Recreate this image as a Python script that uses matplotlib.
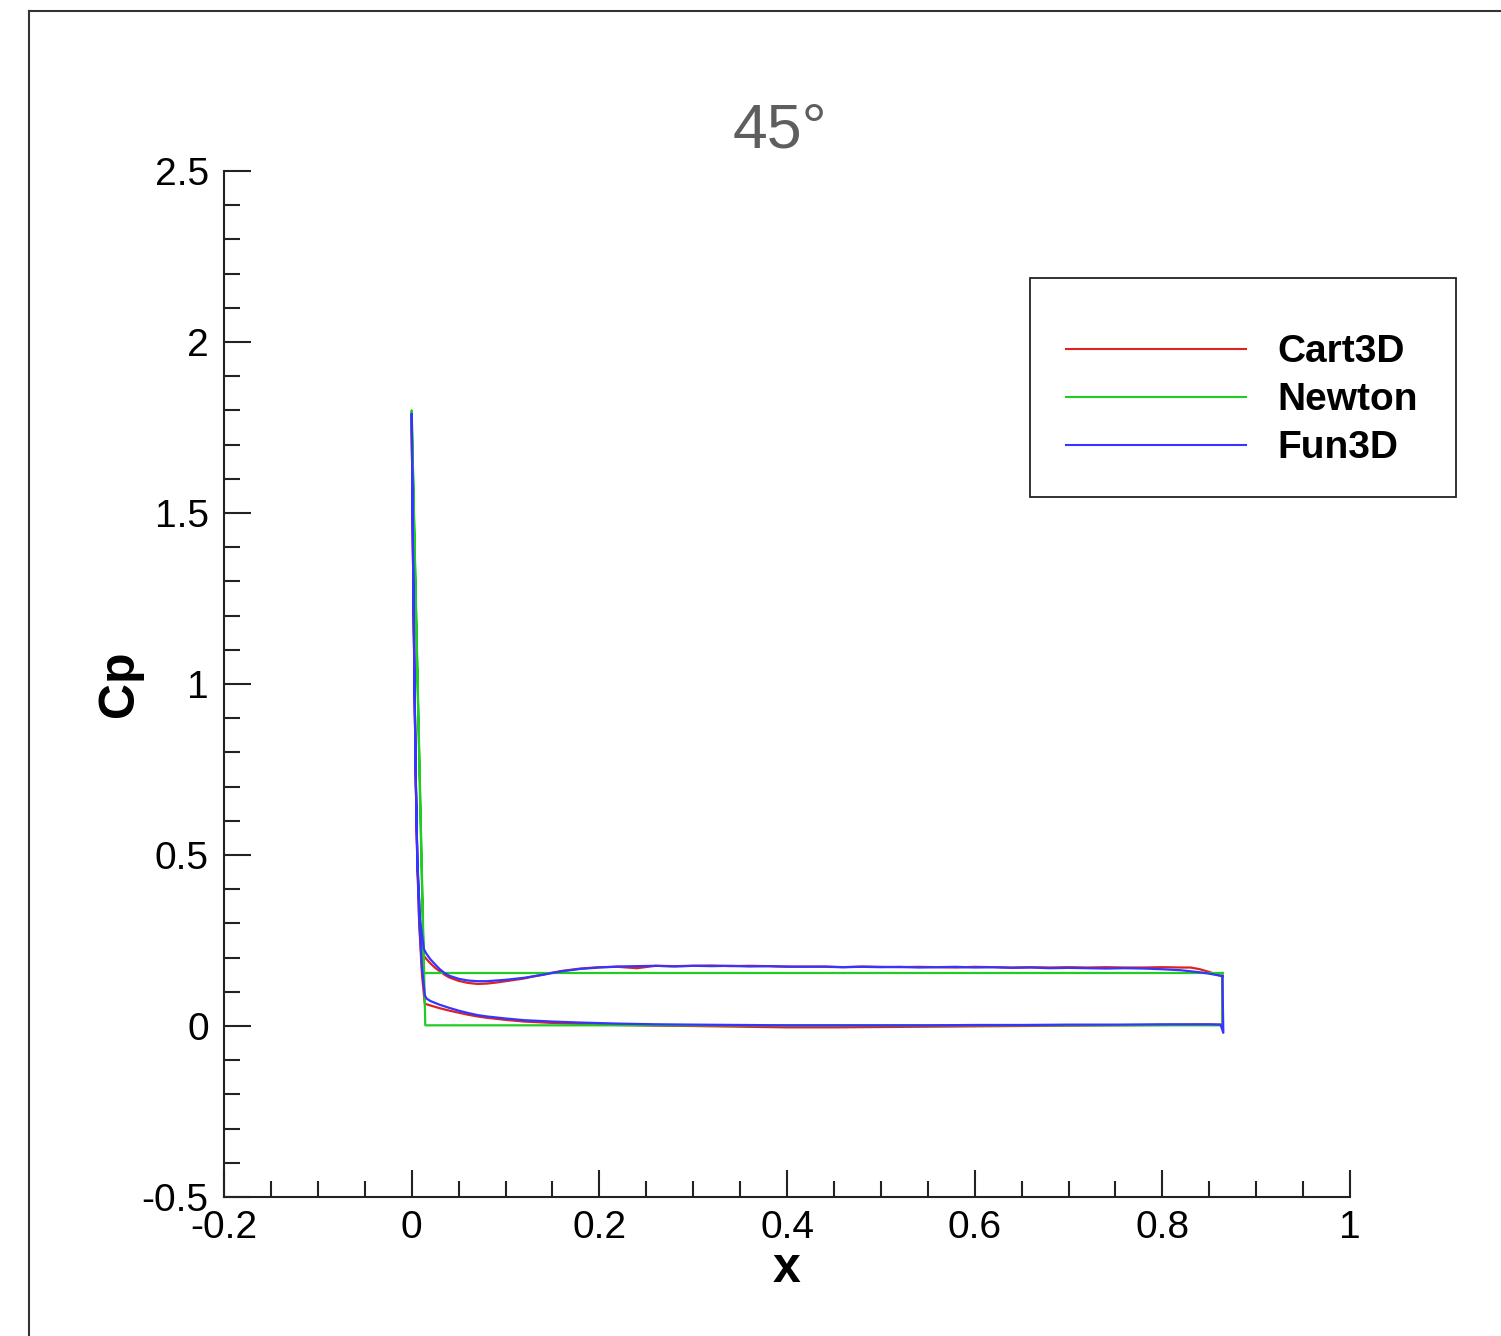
import matplotlib
matplotlib.use("Agg")
import matplotlib.pyplot as plt
from matplotlib.lines import Line2D
from matplotlib.patches import Rectangle
from matplotlib.ticker import MultipleLocator
import numpy as np

plt.rcParams["font.family"] = ["Liberation Sans", "DejaVu Sans"]

# ---- Cp distributions (x along the body, upper and lower surface) ----
# Cart3D
c3_up_x = [0.0, 0.0015, 0.003, 0.0045, 0.006, 0.009, 0.013, 0.016, 0.02, 0.025, 0.03, 0.035,
           0.04, 0.05, 0.06, 0.07, 0.08, 0.09, 0.10, 0.11, 0.12, 0.13, 0.14, 0.15, 0.16, 0.18,
           0.20, 0.22, 0.24, 0.26, 0.28, 0.30, 0.32, 0.34, 0.36, 0.38, 0.40, 0.42, 0.44, 0.46,
           0.48, 0.50, 0.52, 0.54, 0.56, 0.58, 0.60, 0.62, 0.64, 0.66, 0.68, 0.70, 0.72, 0.74,
           0.76, 0.78, 0.80, 0.82, 0.83, 0.84, 0.85, 0.856, 0.864]
c3_up_cp = [1.78, 1.35, 1.00, 0.70, 0.48, 0.30, 0.205, 0.195, 0.183, 0.170, 0.160, 0.150,
            0.142, 0.132, 0.126, 0.123, 0.124, 0.127, 0.131, 0.135, 0.139, 0.145, 0.150, 0.156,
            0.161, 0.168, 0.172, 0.173, 0.169, 0.176, 0.175, 0.176, 0.177, 0.175, 0.176, 0.175,
            0.173, 0.174, 0.173, 0.172, 0.174, 0.173, 0.172, 0.173, 0.172, 0.171, 0.173, 0.172,
            0.171, 0.172, 0.171, 0.172, 0.171, 0.172, 0.171, 0.171, 0.172, 0.171, 0.171, 0.166,
            0.158, 0.152, 0.145]
c3_lo_x = [0.0, 0.0015, 0.003, 0.0045, 0.006, 0.008, 0.011, 0.014, 0.02, 0.03, 0.04, 0.05,
           0.06, 0.07, 0.08, 0.10, 0.12, 0.15, 0.18, 0.22, 0.26, 0.30, 0.35, 0.40, 0.45, 0.50,
           0.55, 0.60, 0.65, 0.70, 0.75, 0.80, 0.85, 0.864]
c3_lo_cp = [1.78, 1.35, 1.00, 0.70, 0.48, 0.30, 0.15, 0.065, 0.060, 0.052, 0.045, 0.039,
            0.033, 0.028, 0.024, 0.018, 0.013, 0.009, 0.006, 0.003, 0.001, 0.000, -0.002,
            -0.004, -0.004, -0.003, -0.002, -0.001, 0.000, 0.001, 0.002, 0.003, 0.004, 0.004]

# Newton
nw_up_x = [0.0, 0.013, 0.864]
nw_up_cp = [1.80, 0.155, 0.155]
nw_lo_x = [0.0, 0.0145, 0.864]
nw_lo_cp = [1.80, 0.002, 0.002]

# Fun3D
f3_up_x = [0.0, 0.0015, 0.003, 0.0045, 0.006, 0.009, 0.013, 0.016, 0.02, 0.025, 0.03, 0.035,
           0.04, 0.05, 0.06, 0.07, 0.08, 0.09, 0.10, 0.12, 0.14, 0.16, 0.18, 0.20, 0.22, 0.24,
           0.26, 0.28, 0.30, 0.32, 0.34, 0.36, 0.38, 0.40, 0.42, 0.44, 0.46, 0.48, 0.50, 0.52,
           0.54, 0.56, 0.58, 0.60, 0.62, 0.64, 0.66, 0.68, 0.70, 0.72, 0.74, 0.76, 0.78, 0.80,
           0.82, 0.84, 0.85, 0.864]
f3_up_cp = [1.79, 1.36, 1.01, 0.71, 0.49, 0.31, 0.225, 0.210, 0.195, 0.180, 0.166, 0.155,
            0.147, 0.138, 0.133, 0.131, 0.131, 0.133, 0.135, 0.141, 0.150, 0.160, 0.167, 0.171,
            0.174, 0.175, 0.176, 0.174, 0.176, 0.175, 0.176, 0.174, 0.175, 0.174, 0.173, 0.174,
            0.172, 0.173, 0.172, 0.173, 0.171, 0.172, 0.173, 0.171, 0.172, 0.170, 0.171, 0.169,
            0.170, 0.169, 0.168, 0.169, 0.168, 0.166, 0.163, 0.157, 0.153, 0.146]
f3_lo_x = [0.0, 0.0015, 0.003, 0.0045, 0.006, 0.008, 0.011, 0.014, 0.016, 0.02, 0.03, 0.04,
           0.05, 0.06, 0.07, 0.08, 0.10, 0.12, 0.15, 0.18, 0.22, 0.26, 0.30, 0.35, 0.40, 0.45,
           0.50, 0.55, 0.60, 0.65, 0.70, 0.75, 0.80, 0.85, 0.862]
f3_lo_cp = [1.79, 1.36, 1.01, 0.71, 0.49, 0.31, 0.17, 0.090, 0.080, 0.073, 0.062, 0.053,
            0.045, 0.038, 0.032, 0.028, 0.022, 0.017, 0.013, 0.010, 0.007, 0.005, 0.004,
            0.003, 0.002, 0.002, 0.002, 0.002, 0.003, 0.003, 0.004, 0.004, 0.005, 0.005, 0.004]
f3_te_x = [0.865, 0.864]
f3_te_cp = [-0.02, 0.146]

series = ["Cart3D", "Newton", "Fun3D"]
colors = {"Cart3D": "#dd2222", "Newton": "#22cc22", "Fun3D": "#3535ff"}

x_ticks = [-0.2, 0.0, 0.2, 0.4, 0.6, 0.8, 1.0]
x_tick_labels = ["-0.2", "0", "0.2", "0.4", "0.6", "0.8", "1"]
y_ticks = [-0.5, 0.0, 0.5, 1.0, 1.5, 2.0, 2.5]
y_tick_labels = ["-0.5", "0", "0.5", "1", "1.5", "2", "2.5"]


def loop(up_x, up_cp, lo_x, lo_cp, te_x=(), te_cp=()):
    """Trailing edge -> upper surface -> leading edge -> lower surface -> trailing edge."""
    xs = list(up_x[::-1]) + list(lo_x[1:]) + list(te_x)
    ys = list(up_cp[::-1]) + list(lo_cp[1:]) + list(te_cp)
    if not te_x:
        xs.append(up_x[-1])
        ys.append(up_cp[-1])
    return np.array(xs), np.array(ys)


curves = {
    "Cart3D": loop(c3_up_x, c3_up_cp, c3_lo_x, c3_lo_cp),
    "Newton": loop(nw_up_x, nw_up_cp, nw_lo_x, nw_lo_cp),
    "Fun3D": loop(f3_up_x, f3_up_cp, f3_lo_x, f3_lo_cp, f3_te_x, f3_te_cp),
}

W, H = 1501, 1336
fig = plt.figure(figsize=(W / 100, H / 100), dpi=100)
ax = fig.add_axes([224 / W, 1 - 1197 / H, (1350 - 224) / W, (1197 - 171) / H])

for name in series:
    x, y = curves[name]
    ax.plot(x, y, color=colors[name], lw=1.6, solid_joinstyle="round")

ax.set_xticks(x_ticks)
ax.set_xticklabels(x_tick_labels)
ax.set_yticks(y_ticks)
ax.set_yticklabels(y_tick_labels)
ax.xaxis.set_minor_locator(MultipleLocator(0.05))
ax.yaxis.set_minor_locator(MultipleLocator(0.1))
ax.set_xlim(-0.2, 1.0)
ax.set_ylim(-0.5, 2.5)

for side in ("top", "right"):
    ax.spines[side].set_visible(False)
for side in ("left", "bottom"):
    ax.spines[side].set_linewidth(1.5)
    ax.spines[side].set_color("#222222")

ax.tick_params(which="both", direction="in", color="#222222", width=1.5, labelsize=28)
ax.tick_params(which="major", length=19.5)
ax.tick_params(which="minor", length=11.5)
ax.tick_params(axis="y", which="major", pad=11)
ax.tick_params(axis="x", which="major", pad=9)

ax.set_xlabel("x", fontsize=36, fontweight="bold")
ax.set_ylabel("Cp", fontsize=36, fontweight="bold")
ax.xaxis.set_label_coords(0.5, -0.048)
ax.yaxis.set_label_coords(-0.072, 0.5)

# title
fig.text(780 / W, 1 - 148 / H, "45°", ha="center", va="baseline",
         fontsize=45, color="#5e5e5e")

# legend box
fig.add_artist(Rectangle((1030 / W, 1 - 497 / H), (1456 - 1030) / W, (497 - 278) / H,
                         transform=fig.transFigure, fill=False, edgecolor="#222222", lw=1.3))
for i, name in enumerate(series):
    yl = 349 + 48 * i
    fig.add_artist(Line2D([1066 / W, 1246 / W], [1 - yl / H, 1 - yl / H],
                          transform=fig.transFigure, color=colors[name], lw=1.5))
    fig.text(1277 / W, 1 - (yl + 13) / H, name, ha="left", va="baseline",
             fontsize=28, fontweight="bold")

# outer frame
fx, fy = 29 / W, 1 - 11 / H
fig.add_artist(Line2D([fx, fx], [0, fy], transform=fig.transFigure, color="#333333", lw=1.5))
fig.add_artist(Line2D([fx, 1.0], [fy, fy], transform=fig.transFigure, color="#333333", lw=1.5))

fig.savefig("out.png", dpi=100, facecolor="white")
